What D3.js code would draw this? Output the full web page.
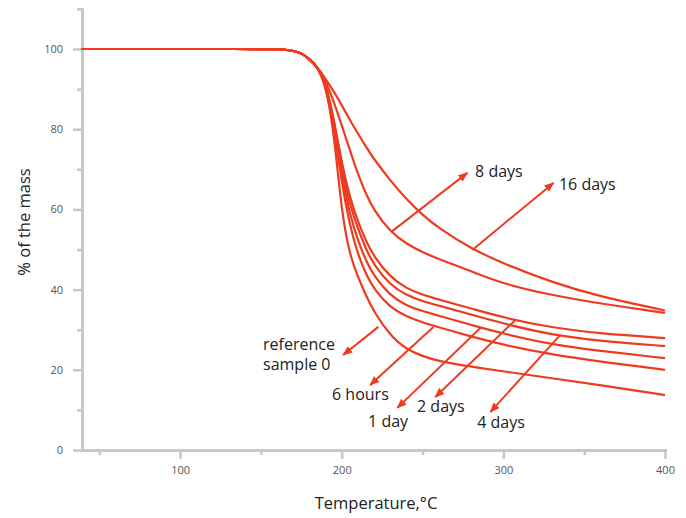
<!DOCTYPE html>
<html>
<head>
<meta charset="utf-8">
<script src="https://cdn.jsdelivr.net/npm/d3@7"></script>
<style>
  body { margin: 0; background: #fff; }
  svg { font-family: "Open Sans", sans-serif; }
  .axis path, .axis line { stroke: #c6c6c6; stroke-width: 2.5; }
  .axis text { fill: #555; font-size: 11px; font-family: "Open Sans", sans-serif; }
</style>
</head>
<body>
<svg id="chart" width="686" height="518"></svg>
<script>

// DATA (temperature in °C, mass in %)

const temps = [39, 150, 160, 170, 175, 180, 185, 190, 195, 200, 205, 210, 215, 220, 230, 240, 250, 260, 280, 300, 330, 360, 400];

const reference = [100, 100, 100, 99.6, 99, 97.5, 95.5, 91, 80, 59, 48.5, 43.2, 38.5, 34.4, 28.5, 25.1, 23.4, 22.1, 20.8, 19.6, 17.9, 16.2, 13.7];
const sixHours  = [100, 100, 100, 99.6, 99, 97.5, 95.5, 91.5, 81, 66.5, 56, 48.8, 43.8, 40.1, 35.5, 33.3, 31.8, 30.6, 28.3, 26.2, 23.8, 22, 20];
const oneDay    = [100, 100, 100, 99.6, 99, 97.5, 95.5, 91.5, 82, 68.5, 58.8, 52.2, 47.2, 43.3, 38.5, 36, 34.6, 33.5, 31.2, 29, 26.3, 24.7, 22.9];
const fourDays  = [100, 100, 100, 99.6, 99, 97.5, 95.5, 91.5, 82.5, 70, 61.3, 55.1, 50.1, 46.1, 41.1, 38.6, 37.1, 36, 33.8, 31.5, 28.7, 27.2, 25.9];
const twoDays   = [100, 100, 100, 99.6, 99, 97.5, 95.5, 91.5, 83, 71.5, 63, 56.9, 52.1, 48.2, 43.1, 40.3, 38.7, 37.5, 35.3, 33, 30.5, 29, 27.9];
const eightDays = [100, 100, 100, 99.6, 99, 97.5, 95.5, 92, 87, 81, 74.8, 68.8, 63.8, 59.7, 54.4, 51.4, 49.3, 47.6, 44.6, 41.4, 38.6, 36.5, 34.2];
const sixteenDays = [100, 100, 100, 99.6, 99, 97.5, 95.5, 92.5, 89.5, 86, 82.3, 78.9, 75.6, 72.5, 67.2, 62.5, 58.6, 55.3, 50.2, 46.5, 41.8, 38.2, 34.8];

const series = [reference, sixHours, oneDay, twoDays, fourDays, eightDays, sixteenDays];

const xTicks = [100, 200, 300, 400];
const xMinorTicks = [50, 150, 250, 350];
const yTicks = [0, 20, 40, 60, 80, 100];
const yMinorTicks = [10, 30, 50, 70, 90, 110];

// annotation arrows: from a curve to the label (data coordinates)
const notes = [
  { text: ["8 days"], from: [230.7, 54.4], to: [277.7, 69.1], at: [282.5, 68.1] },
  { text: ["16 days"], from: [280.8, 49.9], to: [331.0, 66.6], at: [334.4, 64.8] },
  { text: ["reference", "sample 0"], from: [222.6, 30.7], to: [200.9, 23.7], at: [151.3, 24.9] },
  { text: ["6 hours"], from: [256.7, 30.7], to: [217.6, 16.2], at: [194.0, 12.5] },
  { text: ["1 day"], from: [285.8, 30.4], to: [234.4, 10.5], at: [216.3, 5.7] },
  { text: ["2 days"], from: [307.4, 32.4], to: [257.9, 13.2], at: [246.6, 9.5] },
  { text: ["4 days"], from: [335.3, 28.7], to: [292.0, 9.5], at: [283.8, 5.5] }
];

const red = "#ee3b1f";

const svg = d3.select("#chart");

const x = d3.scaleLinear().domain([39.3, 400]).range([82, 665]);
const y = d3.scaleLinear().domain([0, 110]).range([450, 8.9]);

// AXES

svg.append("g")
  .attr("class", "axis")
  .attr("transform", "translate(0,450)")
  .call(d3.axisBottom(x).tickValues(xMinorTicks).tickSize(5).tickSizeOuter(0).tickFormat(""));

svg.append("g")
  .attr("class", "axis")
  .attr("transform", "translate(0,450)")
  .call(d3.axisBottom(x).tickValues(xTicks).tickSize(9).tickSizeOuter(0).tickPadding(7));

svg.append("g")
  .attr("class", "axis")
  .attr("transform", "translate(82,0)")
  .call(d3.axisLeft(y).tickValues(yMinorTicks).tickSize(5).tickSizeOuter(0).tickFormat(""));

svg.append("g")
  .attr("class", "axis")
  .attr("transform", "translate(82,0)")
  .call(d3.axisLeft(y).tickValues(yTicks).tickSize(9).tickSizeOuter(0).tickPadding(10));

svg.selectAll(".axis .domain").attr("stroke-linecap", "square");

// AXIS TITLES

svg.append("text")
  .attr("x", 376)
  .attr("y", 509)
  .attr("text-anchor", "middle")
  .attr("font-size", "16.5px")
  .attr("fill", "#222")
  .text("Temperature,°C");

svg.append("text")
  .attr("transform", "translate(30,222) rotate(-90)")
  .attr("text-anchor", "middle")
  .attr("font-size", "16.5px")
  .attr("fill", "#222")
  .text("% of the mass");

// CURVES

const line = d3.line()
  .x((d, i) => x(temps[i]))
  .y(d => y(d))
  .curve(d3.curveBasis);

svg.append("g")
  .selectAll("path")
  .data(series)
  .enter()
  .append("path")
  .attr("d", line)
  .attr("fill", "none")
  .attr("stroke", red)
  .attr("stroke-width", 2.2);

// ARROWS + LABELS

svg.append("defs")
  .append("marker")
  .attr("id", "head")
  .attr("viewBox", "0 0 10 8")
  .attr("refX", 9)
  .attr("refY", 4)
  .attr("markerUnits", "userSpaceOnUse")
  .attr("markerWidth", 10)
  .attr("markerHeight", 8)
  .attr("orient", "auto")
  .append("path")
  .attr("d", "M0,0 L10,4 L0,8 Z")
  .attr("fill", red);

svg.append("g")
  .selectAll("line")
  .data(notes)
  .enter()
  .append("line")
  .attr("x1", d => x(d.from[0]))
  .attr("y1", d => y(d.from[1]))
  .attr("x2", d => x(d.to[0]))
  .attr("y2", d => y(d.to[1]))
  .attr("stroke", red)
  .attr("stroke-width", 2)
  .attr("marker-end", "url(#head)");

const labels = svg.append("g")
  .selectAll("text")
  .data(notes)
  .enter()
  .append("text")
  .attr("x", d => x(d.at[0]))
  .attr("y", d => y(d.at[1]))
  .attr("font-size", "16px")
  .attr("fill", "#222");

labels.selectAll("tspan")
  .data(d => d.text.map(t => ({ t, x: x(d.at[0]) })))
  .enter()
  .append("tspan")
  .attr("x", d => d.x)
  .attr("dy", (d, i) => i === 0 ? 0 : 20)
  .text(d => d.t);

</script>
</body>
</html>
